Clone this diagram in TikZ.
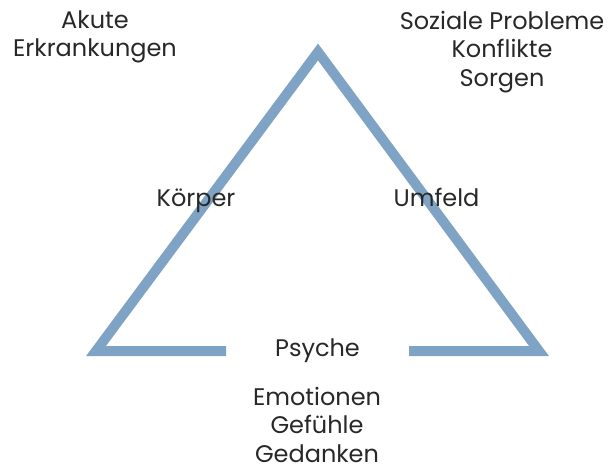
\documentclass[tikz,border=0pt]{standalone}
\usepackage{fontspec}
\setmainfont{Poppins}
\definecolor{triblue}{RGB}{127,163,196}
\definecolor{textgray}{RGB}{40,40,40}
\begin{document}
\begin{tikzpicture}[x=1pt, y=-1pt, every node/.style={font=\fontsize{24}{28.5}\selectfont, text=textgray, align=center, inner sep=0pt, anchor=base}]
            \useasboundingbox (0,0) rectangle (611,472);
            \draw[triblue, line width=10pt] (226,351) -- (96,351) -- (318,52) -- (539,351) -- (409,351);
            % base anchor sits on the last line
            \node (akute) at (95,56.5) {Akute\\Erkrankungen};
            \node (sozial) at (502,86) {Soziale Probleme\\Konflikte\\Sorgen};
            \node (koerper) at (196,206.5) {Körper};
            \node (umfeld) at (436.5,206.5) {Umfeld};
            \node (psyche) at (317.5,356) {Psyche};
            \node (emotion) at (317,462) {Emotionen\\Gefühle\\Gedanken};
        \end{tikzpicture}
\end{document}
